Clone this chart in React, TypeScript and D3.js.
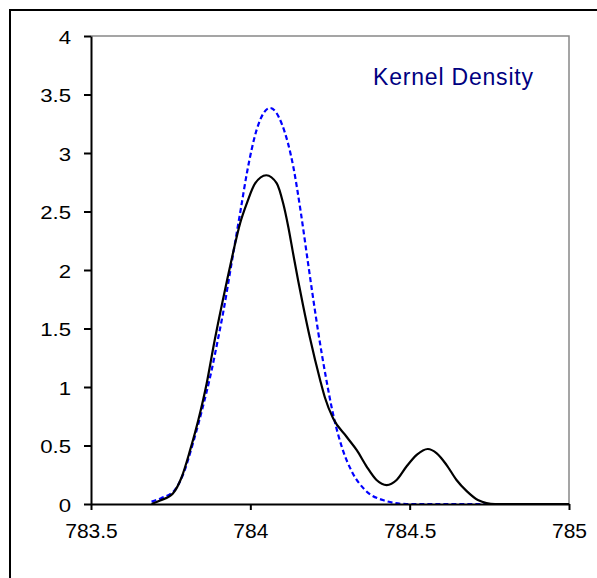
import React, { useEffect, useRef } from "react";
import * as d3 from "d3";

// x ticks / y ticks
const xTicks = [783.5, 784, 784.5, 785];
const yTicks = [0, 0.5, 1, 1.5, 2, 2.5, 3, 3.5, 4];

// kernel density (black solid)
const kdeX = [783.69, 783.717, 783.757, 783.785, 783.811, 783.837, 783.863, 783.886, 783.926, 783.946, 783.968, 783.989, 784.015, 784.05, 784.083, 784.103, 784.119, 784.135, 784.15, 784.166, 784.187, 784.219, 784.234, 784.26, 784.302, 784.334, 784.365, 784.396, 784.428, 784.459, 784.49, 784.522, 784.557, 784.585, 784.616, 784.647, 784.679, 784.714, 784.768, 785];
const kdeY = [0, 0.03, 0.09, 0.233, 0.46, 0.72, 1.03, 1.37, 1.9, 2.15, 2.4, 2.57, 2.74, 2.81, 2.74, 2.57, 2.37, 2.13, 1.91, 1.69, 1.42, 1.06, 0.91, 0.73, 0.575, 0.46, 0.32, 0.205, 0.162, 0.205, 0.32, 0.42, 0.47, 0.433, 0.333, 0.205, 0.11, 0.035, 0, 0];

// normal fit (blue dashed)
const normX = [783.69, 783.72, 783.76, 783.79, 783.82, 783.85, 783.875, 783.9, 783.915, 783.94, 783.97, 783.99, 784.02, 784.062, 784.1, 784.135, 784.158, 784.18, 784.197, 784.213, 784.236, 784.262, 784.288, 784.32, 784.36, 784.42, 784.49, 784.6, 784.77];
const normY = [0.02, 0.05, 0.11, 0.26, 0.52, 0.82, 1.1, 1.43, 1.64, 2.04, 2.52, 2.84, 3.2, 3.385, 3.24, 2.88, 2.5, 2.08, 1.76, 1.47, 1.1, 0.74, 0.48, 0.27, 0.12, 0.03, 0, 0, 0];

const W = 597, H = 578;
const FONT = "'Liberation Sans', Arial, Helvetica, sans-serif";

export default function App() {
  const ref = useRef<SVGSVGElement>(null);

  useEffect(() => {
    const svg = d3.select(ref.current);
    svg.selectAll("*").remove();

    const x = d3.scaleLinear().domain([783.5, 785]).range([91, 569]);
    const y = d3.scaleLinear().domain([0, 4]).range([504, 36]);

    // outer frame (runs off the right/bottom edge)
    svg.append("rect")
      .attr("x", 10).attr("y", 10)
      .attr("width", 600).attr("height", 600)
      .attr("fill", "white").attr("stroke", "black").attr("stroke-width", 2);

    // plot area border, top and right in grey
    svg.append("path")
      .attr("d", `M${x(783.5)},${y(4)}H${x(785)}V${y(0)}`)
      .attr("fill", "none").attr("stroke", "#888").attr("stroke-width", 1.5);

    const line = d3.line<[number, number]>()
      .x(d => x(d[0]))
      .y(d => y(d[1]))
      .curve(d3.curveMonotoneX);

    svg.append("path")
      .attr("d", line(normX.map((v, i) => [v, normY[i]]) as [number, number][]))
      .attr("fill", "none").attr("stroke", "#0000ff")
      .attr("stroke-width", 2.2).attr("stroke-dasharray", "5,3");

    svg.append("path")
      .attr("d", line(kdeX.map((v, i) => [v, kdeY[i]]) as [number, number][]))
      .attr("fill", "none").attr("stroke", "black").attr("stroke-width", 2.2);

    // x axis
    const xa = svg.append("g").attr("transform", `translate(0,${y(0)})`)
      .call(d3.axisBottom(x).tickValues(xTicks).tickSize(6).tickSizeOuter(0).tickFormat(d3.format("")));
    xa.select(".domain").attr("stroke", "black").attr("stroke-width", 2);
    xa.selectAll(".tick line").attr("stroke", "black").attr("stroke-width", 2);
    xa.selectAll(".tick text")
      .attr("font-family", FONT).attr("font-size", 21).attr("fill", "black")
      .attr("y", 34).attr("dy", null);

    // y axis
    const ya = svg.append("g").attr("transform", `translate(${x(783.5)},0)`)
      .call(d3.axisLeft(y).tickValues(yTicks).tickSize(7).tickSizeOuter(0).tickFormat(d3.format("")));
    ya.select(".domain").attr("stroke", "black").attr("stroke-width", 2);
    ya.selectAll(".tick line").attr("stroke", "black").attr("stroke-width", 2);
    ya.selectAll(".tick text").remove();
    ya.selectAll(".tick").append("text")
      .attr("transform", "translate(-20,7) scale(1.2,1)")
      .attr("text-anchor", "end")
      .attr("font-family", FONT).attr("font-size", 18.5).attr("fill", "black")
      .text(d => String(d));

    svg.append("text")
      .attr("x", 373).attr("y", 85)
      .attr("font-family", FONT).attr("font-size", 23).attr("fill", "#000080")
      .attr("textLength", 160).attr("lengthAdjust", "spacing")
      .text("Kernel Density");
  }, []);

  return (
    <svg ref={ref} width={W} height={H}
      style={{ position: "absolute", left: 0, top: 0, background: "white" }} />
  );
}
